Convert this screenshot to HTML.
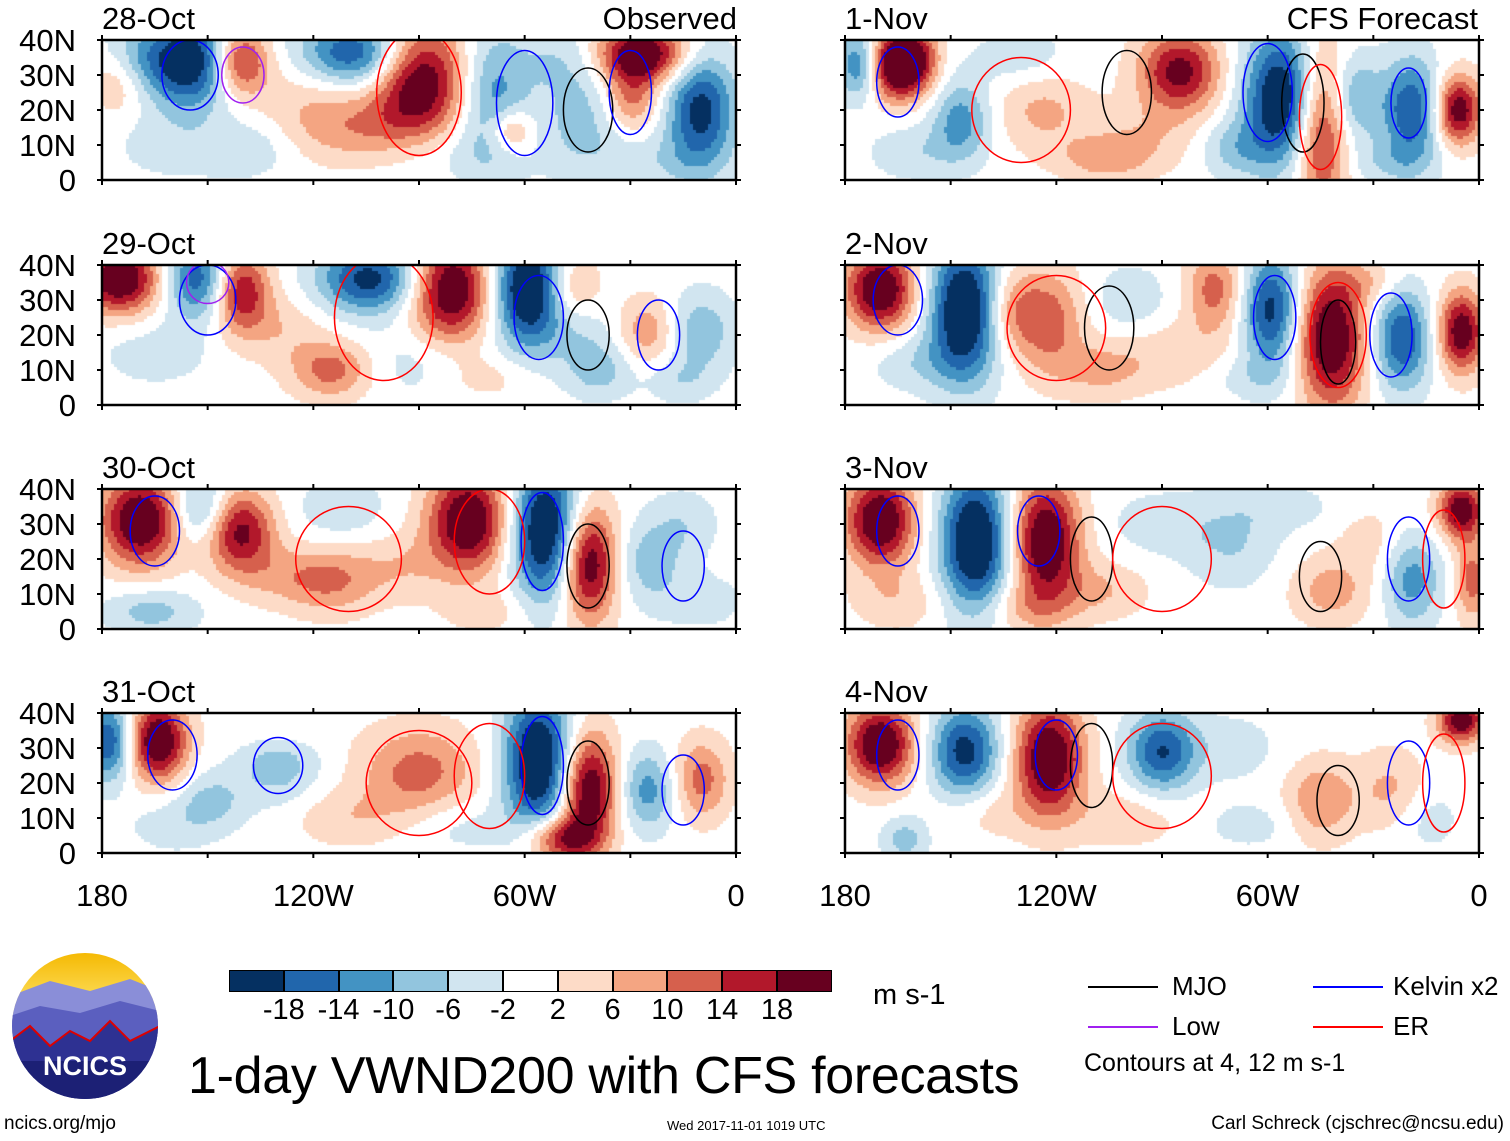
<!DOCTYPE html>
<html><head><meta charset="utf-8">
<style>
body{margin:0;background:#fff;width:1510px;height:1141px;overflow:hidden;position:relative;font-family:"Liberation Sans",sans-serif;}
.t{position:absolute;color:#000;white-space:nowrap;line-height:1;}
canvas{position:absolute;}
</style></head>
<body>
<div id="root"></div>
<script>
// ---- data ----
const panelTitles=["28-Oct","29-Oct","30-Oct","31-Oct","1-Nov","2-Nov","3-Nov","4-Nov"];
const levelBounds=[-18,-14,-10,-6,-2,2,6,10,14,18];
const levelColors=["#053061","#2166ac","#4393c3","#92c5de","#d1e5f0","#ffffff","#fddbc7","#f4a582","#d6604d","#b2182b","#67001f"];
const latTicks=["0","10N","20N","30N","40N"];
const lonTicks=["180","120W","60W","0"];
// anomaly centres per panel: [lonW, lat, amplitude, sigmaLon, sigmaLat]
const blobs28Oct=[[155,34,-24,8,8],[141,34,20,5,6],[108,36,-20,10,6],[90,29,24,8,10],[69,23,-12,6,12],[27,36,24,8,5],[30,23,12,5,6],[10,20,-20,6,10],[43,17,-8,8,10],[64,14,12,4,4],[107,14,8,12,6],[172,34,-8,6,6],[175,29,9,5,6],[138,9,-5,8,5],[160,10,-4,10,6],[120,25,5,10,8],[85,8,-4,12,5],[20,5,-4,10,5],[50,35,-5,8,6]];
const blobs29Oct=[[175,36,24,7,6],[152,36,-18,6,7],[141,33,20,5,7],[104,36,-20,9,6],[81,33,24,7,9],[59,33,-26,6,10],[47,33,9,5,6],[39,10,-8,6,5],[25,21,9,5,6],[10,21,-9,6,7],[115,10,12,7,5],[16,7,-5,6,4],[165,15,-4,10,6],[130,22,5,8,6],[90,12,-4,10,6],[70,8,4,8,4],[45,22,-5,6,6]];
const blobs30Oct=[[169,31,24,7,8],[152,34,-12,5,6],[141,28,20,6,7],[112,34,-5,8,6],[76,31,24,7,9],[54,28,-26,6,12],[42,19,24,5,10],[25,19,-8,6,7],[115,14,10,8,6],[166,5,-8,8,4],[130,15,5,8,5],[95,18,5,8,6],[70,5,4,8,4],[15,30,-5,6,6],[10,8,-4,8,5]];
const blobs31Oct=[[178,32,-18,4,7],[164,32,24,5,7],[130,26,-9,7,7],[90,23,12,10,8],[56,26,-26,6,12],[42,18,24,5,10],[25,18,-12,5,7],[10,21,12,5,7],[50,4,18,6,4],[149,15,-7,6,5],[110,10,5,10,5],[80,8,-4,10,5],[160,8,-4,8,5],[130,35,5,8,4]];
const blobs1Nov=[[176,33,-14,4,6],[167,33,22,4,6],[160,34,20,4,6],[147,17,-12,5,7],[124,20,7,8,7],[85,31,20,7,7],[70,9,-7,6,5],[55,23,-26,7,12],[45,17,24,5,14],[36,23,-12,5,8],[19,20,-18,5,9],[6,20,22,4,6],[107,6,7,8,4],[130,35,-5,8,5],[160,8,-5,8,5],[95,12,5,10,6],[25,5,-5,8,4]];
const blobs2Nov=[[170,33,24,6,7],[146,27,-26,6,12],[133,27,9,5,7],[122,24,12,6,9],[99,30,-5,7,6],[75,33,12,5,7],[59,27,-20,5,10],[42,19,24,6,12],[22,19,-18,5,9],[5,21,22,4,7],[107,10,7,8,5],[160,12,-5,8,5],[85,15,5,10,6],[30,35,5,6,4],[65,8,-4,8,4]];
const blobs3Nov=[[170,31,24,6,8],[143,25,-26,6,12],[123,25,24,6,11],[70,25,-6,8,8],[42,11,8,7,6],[19,14,-12,5,8],[5,34,22,4,5],[2,14,12,3,7],[107,11,6,8,5],[165,8,5,8,5],[90,30,-4,10,6],[55,35,-4,8,4],[30,25,4,6,6],[130,6,5,8,4]];
const blobs4Nov=[[170,31,24,6,7],[146,29,-20,6,8],[122,27,24,6,10],[90,29,-18,6,7],[45,15,10,6,7],[25,18,7,6,7],[163,4,-8,4,4],[5,38,22,4,4],[100,10,5,10,5],[70,30,-4,8,6],[140,12,4,8,5],[65,8,-4,8,4],[15,10,-4,6,6]];
const panelBlobs=[blobs28Oct,blobs29Oct,blobs30Oct,blobs31Oct,blobs1Nov,blobs2Nov,blobs3Nov,blobs4Nov];
// contour ellipses per panel: [lonW, lat, radiusLon, radiusLat, type]  type: 0 MJO,1 Kelvin,2 Low,3 ER
const contours28Oct=[[42,20,7,12,0],[155,30,8,10,1],[60,22,8,15,1],[30,25,6,12,1],[90,25,12,18,3],[140,30,6,8,2]];
const contours29Oct=[[42,20,6,10,0],[150,30,8,10,1],[56,25,7,12,1],[22,20,6,10,1],[100,25,14,18,3],[150,35,6,6,2]];
const contours30Oct=[[42,18,6,12,0],[165,28,7,10,1],[55,25,6,14,1],[15,18,6,10,1],[110,20,15,15,3],[70,25,10,15,3]];
const contours31Oct=[[42,20,6,12,0],[160,28,7,10,1],[130,25,7,8,1],[55,25,6,14,1],[15,18,6,10,1],[90,20,15,15,3],[70,22,10,15,3]];
const contours1Nov=[[100,25,7,12,0],[50,22,6,14,0],[165,28,6,10,1],[60,25,7,14,1],[20,22,5,10,1],[130,20,14,15,3],[45,18,6,15,3]];
const contours2Nov=[[105,22,7,12,0],[40,18,5,12,0],[165,30,7,10,1],[58,25,6,12,1],[25,20,6,12,1],[120,22,14,15,3],[40,20,8,15,3]];
const contours3Nov=[[110,20,6,12,0],[45,15,6,10,0],[165,28,6,10,1],[125,28,6,10,1],[20,20,6,12,1],[90,20,14,15,3],[10,20,6,14,3]];
const contours4Nov=[[110,25,6,12,0],[40,15,6,10,0],[165,28,6,10,1],[120,28,6,10,1],[20,20,6,12,1],[90,22,14,15,3],[10,20,6,14,3]];
const panelContours=[contours28Oct,contours29Oct,contours30Oct,contours31Oct,contours1Nov,contours2Nov,contours3Nov,contours4Nov];
const contourColors=["#000","#0000ff","#a020f0","#ff0000"];

const root=document.getElementById('root');
const colX=[102,845], rowY=[40,265,489,713], PW=634, PH=140;
function colorFor(v){let i=0;while(i<levelBounds.length&&v>levelBounds[i])i++;return levelColors[i];}
function txt(s,x,y,size,name,anchorRight){
  const d=document.createElement('div');d.className='t';d.textContent=s;
  d.style.fontSize=size+'px';d.style.top=y+'px';
  if(anchorRight){d.style.right=(1510-x)+'px';}else d.style.left=x+'px';
  
  
  root.appendChild(d);return d;
}
const svgNS='http://www.w3.org/2000/svg';
for(let p=0;p<8;p++){
  const x0=colX[Math.floor(p/4)], y0=rowY[p%4];
  const c=document.createElement('canvas');
  c.width=PW;c.height=PH;c.style.left=x0+'px';c.style.top=y0+'px';
  
  
  root.appendChild(c);
  const ctx=c.getContext('2d');
  const step=3, bl=panelBlobs[p];
  for(let gx=0;gx<PW;gx+=step){
    for(let gy=0;gy<PH;gy+=step){
      const lonW=180-(gx+step/2)/PW*180, lat=40-(gy+step/2)/PH*40;
      let v=0;
      for(const b of bl){const dx=(lonW-b[0])/(b[3]*1.15),dy=(lat-b[1])/(b[4]*1.15);v+=b[2]*Math.exp(-0.5*(dx*dx+dy*dy));}
      ctx.fillStyle=colorFor(v);ctx.fillRect(gx,gy,step,step);
    }
  }
  // contours + frame
  const s=document.createElementNS(svgNS,'svg');
  s.setAttribute('width',PW+12);s.setAttribute('height',PH+12);
  s.style.position='absolute';s.style.left=(x0-6)+'px';s.style.top=(y0-6)+'px';
  
  
  const cp=document.createElementNS(svgNS,'clipPath');cp.setAttribute('id','clip'+p);
  const cr=document.createElementNS(svgNS,'rect');cr.setAttribute('x',6);cr.setAttribute('y',6);cr.setAttribute('width',PW);cr.setAttribute('height',PH);
  cp.appendChild(cr);s.appendChild(cp);
  const g=document.createElementNS(svgNS,'g');g.setAttribute('clip-path','url(#clip'+p+')');
  for(const ce of panelContours[p]){
    const e=document.createElementNS(svgNS,'ellipse');
    e.setAttribute('cx',6+(180-ce[0])/180*PW);
    e.setAttribute('cy',6+(40-ce[1])/40*PH);
    e.setAttribute('rx',ce[2]/180*PW);
    e.setAttribute('ry',ce[3]/40*PH);
    e.setAttribute('fill','none');e.setAttribute('stroke',contourColors[ce[4]]);e.setAttribute('stroke-width','1.5');
    
    
    g.appendChild(e);
  }
  s.appendChild(g);
  let d='';
  for(let i=0;i<=6;i++){const tx=6+i*PW/6;d+=`M${tx} 6v-5M${tx} ${PH+6}v5`;}
  for(let i=0;i<=4;i++){const ty=6+i*PH/4;d+=`M6 ${ty}h-5M${PW+6} ${ty}h5`;}
  const path=document.createElementNS(svgNS,'path');path.setAttribute('d',d);path.setAttribute('stroke','#000');path.setAttribute('stroke-width','2');
  s.appendChild(path);
  const fr=document.createElementNS(svgNS,'rect');fr.setAttribute('x',6);fr.setAttribute('y',6);fr.setAttribute('width',PW);fr.setAttribute('height',PH);
  fr.setAttribute('fill','none');fr.setAttribute('stroke','#000');fr.setAttribute('stroke-width','2.5');
  s.appendChild(fr);
  root.appendChild(s);
  txt(panelTitles[p],x0,y0-37,31,'panel-title');
  if(p==0) txt("Observed",737,y0-37,31,'observed-label',true);
  if(p==4) txt("CFS Forecast",1478,y0-37,31,'cfs-forecast-label',true);
  if(p<4){
    for(let i=0;i<latTicks.length;i++){
      const e=txt(latTicks[i],x0-102,y0+(4-i)*PH/4-15,31,'lat-tick-label',false);
      e.style.width='76px';e.style.textAlign='right';
    }
  }
}
for(let c=0;c<2;c++){
  for(let i=0;i<lonTicks.length;i++){
    const x=colX[c]+i*PW/3;
    const e=txt(lonTicks[i],x-60,880,31,'lon-tick-label');e.style.width='120px';e.style.textAlign='center';
  }
}
// colorbar
for(let i=0;i<levelColors.length;i++){
  const b=document.createElement('div');
  b.style.cssText=`position:absolute;left:${229+i*54.8}px;top:970px;width:54.8px;height:22px;background:${levelColors[i]};box-sizing:border-box;border:1px solid #000;`;
  
  
  root.appendChild(b);
}
for(let i=0;i<levelBounds.length;i++){
  const e=txt(String(levelBounds[i]),229+(i+1)*54.8-40,996,29,'colorbar-label');e.style.width='80px';e.style.textAlign='center';
}
txt("m s-1",873,981,29,'units-label');
const tt=txt("1-day VWND200 with CFS forecasts",188,1050,52,'chart-title');tt.style.letterSpacing='-0.3px';
// contour legend
const leg=[["MJO","#000",1088,1172,986],["Kelvin x2","#00f",1313,1393,986],["Low","#a020f0",1088,1172,1026],["ER","#f00",1313,1393,1026]];
for(const l of leg){
  const ln=document.createElement('div');
  ln.style.cssText=`position:absolute;left:${l[2]}px;top:${l[4]}px;width:70px;height:2px;background:${l[1]};`;
  
  
  root.appendChild(ln);
  txt(l[0],l[3],l[4]-13,26,'legend-entry');
}
txt("Contours at 4, 12 m s-1",1084,1051,25,'contour-note');
txt("ncics.org/mjo",4,1114,19,'footer-url');
txt("Wed 2017-11-01 1019 UTC",667,1119,13,'footer-date');
txt("Carl Schreck (cjschrec@ncsu.edu)",1504,1114,19,'footer-author',true);
</script>
<svg style="position:absolute;left:10px;top:951px" width="150" height="150">
<defs><clipPath id="cc"><circle cx="75" cy="75" r="73"/></clipPath>
<linearGradient id="sky" x1="0" y1="0" x2="0" y2="1"><stop offset="0" stop-color="#f5b800"/><stop offset="0.4" stop-color="#fde36a"/></linearGradient></defs>
<g clip-path="url(#cc)">
<rect width="150" height="150" fill="url(#sky)"/>
<path d="M0 45 L40 30 L80 40 L120 28 L150 40 V150 H0Z" fill="#8a8ed8"/>
<path d="M0 65 L30 55 L70 62 L110 50 L150 60 V150 H0Z" fill="#5b5fbf"/>
<path d="M0 90 L20 75 L40 95 L60 80 L80 90 L100 70 L120 90 L150 75 V150 H0Z" fill="#2e3192" stroke="#d00" stroke-width="2"/>
<path d="M0 110 H150 V150 H0Z" fill="#1c2075"/>
</g>
<text x="75" y="124" text-anchor="middle" font-family="Liberation Sans" font-weight="bold" font-size="27" fill="#fff">NCICS</text>
</svg>
</body></html>
